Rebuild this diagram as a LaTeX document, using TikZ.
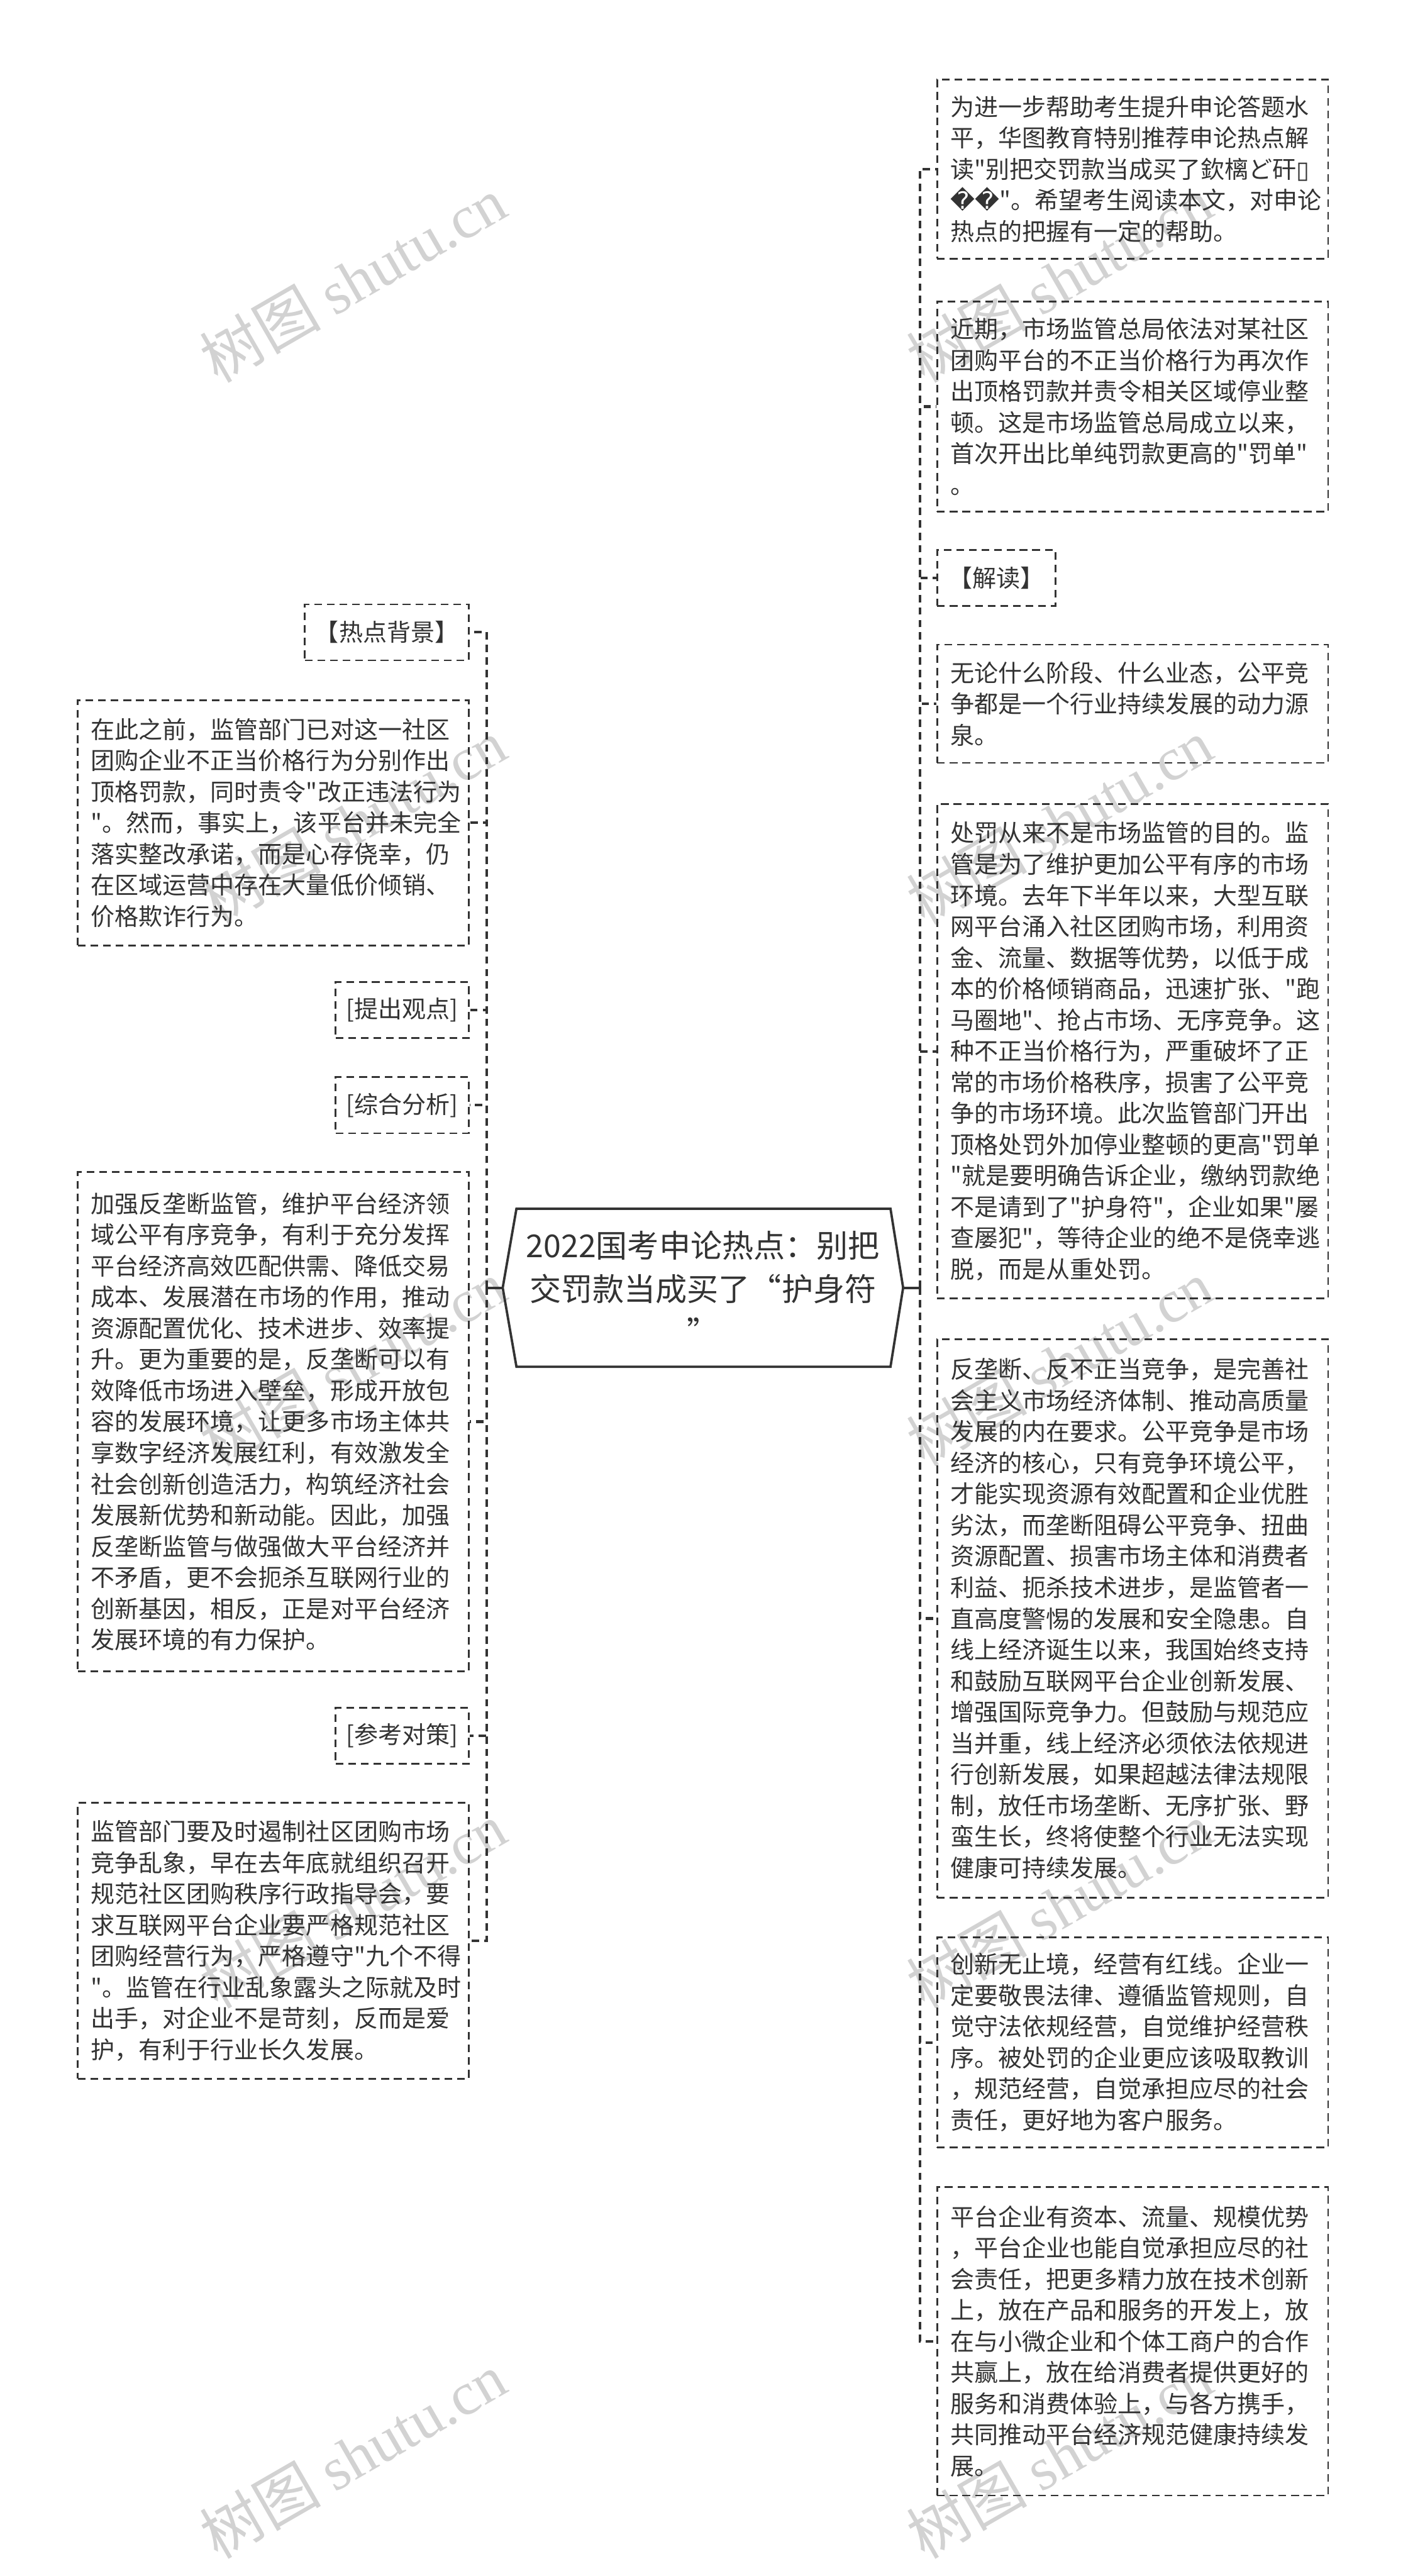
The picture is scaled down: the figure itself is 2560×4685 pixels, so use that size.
\documentclass[tikz,border=0pt]{standalone}
\usepackage{fontspec}
\newfontfamily\cjk{Noto Sans CJK SC}
\newfontfamily\dejavu{DejaVu Sans}
\newfontfamily\wmserif{Liberation Serif}
\usetikzlibrary{calc}
\definecolor{ink}{HTML}{333333}
\definecolor{wmc}{HTML}{D2D2D2}
\begin{document}
\begin{tikzpicture}[x=0.3pt,y=-0.3pt,
 txt/.style={font=\cjk\fontsize{13.05pt}{17pt}\selectfont, text=ink},
 bigbox/.style={txt, draw=ink, line width=0.9pt, dash pattern=on 4.2pt off 2.7pt, align=left, text width=198.9pt, inner xsep=7.2pt, inner ysep=0pt},
 tagbox/.style={txt, draw=ink, line width=0.9pt, dash pattern=on 4.2pt off 2.7pt, inner sep=0pt, minimum height=30.6pt},
 conn/.style={draw=ink, line width=1.4pt, dash pattern=on 4pt off 2.8pt},
 stub/.style={draw=ink, line width=1.4pt},
 hexline/.style={draw=ink, line width=1.3pt},
 wmark/.style={text=wmc, rotate=30, inner sep=0pt, font=\cjk\fontsize{33pt}{33pt}\selectfont}]
\useasboundingbox (0,0) rectangle (2560,4685);

% watermarks
\foreach \wx in {642,1927}{
 \foreach \wy in {508,1494,2479,3465,4466}{
  \node[wmark] at (\wx,\wy) {树图\ {\wmserif shutu.cn}};
 }
}

% root
\node[txt, font=\cjk\fontsize{17.2pt}{23.6pt}\selectfont, align=center, minimum width=218.1pt, minimum height=85.8pt, inner sep=0pt] (root) at (1278.5,2342) {2022国考申论热点：别把\\交罚款当成买了“护身符\\”};
\draw[hexline] (root.west) -- ($(root.north west)+(25,0)$) -- ($(root.north east)+(-23,0)$) -- (root.east) -- ($(root.south east)+(-23,0)$) -- ($(root.south west)+(25,0)$) -- cycle;

% right column
\node[bigbox, anchor=north west, minimum height=97.8pt] (b1) at (1703,143) {为进一步帮助考生提升申论答题水\\平，华图教育特别推荐申论热点解\\读"别把交罚款当成买了欽樆ど矸{\dejavu ▯}\\{\dejavu ��}"。希望考生阅读本文，对申论\\热点的把握有一定的帮助。};
\node[bigbox, anchor=north west, minimum height=114.6pt] (b2) at (1703,547) {近期，市场监管总局依法对某社区\\团购平台的不正当价格行为再次作\\出顶格罚款并责令相关区域停业整\\顿。这是市场监管总局成立以来，\\首次开出比单纯罚款更高的"罚单"\\。};
\node[tagbox, anchor=west, minimum width=64.5pt] (jd) at (1703,1051) {【解读】};
\node[bigbox, anchor=north west, minimum height=64.5pt] (b4) at (1703,1171) {无论什么阶段、什么业态，公平竞\\争都是一个行业持续发展的动力源\\泉。};
\node[bigbox, anchor=north west, minimum height=269.7pt] (b5) at (1703,1461) {处罚从来不是市场监管的目的。监\\管是为了维护更加公平有序的市场\\环境。去年下半年以来，大型互联\\网平台涌入社区团购市场，利用资\\金、流量、数据等优势，以低于成\\本的价格倾销商品，迅速扩张、"跑\\马圈地"、抢占市场、无序竞争。这\\种不正当价格行为，严重破坏了正\\常的市场价格秩序，损害了公平竞\\争的市场环境。此次监管部门开出\\顶格处罚外加停业整顿的更高"罚单\\"就是要明确告诉企业，缴纳罚款绝\\不是请到了"护身符"，企业如果"屡\\查屡犯"，等待企业的绝不是侥幸逃\\脱，而是从重处罚。};
\node[bigbox, anchor=north west, minimum height=304.8pt] (b6) at (1703,2434) {反垄断、反不正当竞争，是完善社\\会主义市场经济体制、推动高质量\\发展的内在要求。公平竞争是市场\\经济的核心，只有竞争环境公平，\\才能实现资源有效配置和企业优胜\\劣汰，而垄断阻碍公平竞争、扭曲\\资源配置、损害市场主体和消费者\\利益、扼杀技术进步，是监管者一\\直高度警惕的发展和安全隐患。自\\线上经济诞生以来，我国始终支持\\和鼓励互联网平台企业创新发展、\\增强国际竞争力。但鼓励与规范应\\当并重，线上经济必须依法依规进\\行创新发展，如果超越法律法规限\\制，放任市场垄断、无序扩张、野\\蛮生长，终将使整个行业无法实现\\健康可持续发展。};
\node[bigbox, anchor=north west, minimum height=114.6pt] (b7) at (1703,3522) {创新无止境，经营有红线。企业一\\定要敬畏法律、遵循监管规则，自\\觉守法依规经营，自觉维护经营秩\\序。被处罚的企业更应该吸取教训\\，规范经营，自觉承担应尽的社会\\责任，更好地为客户服务。};
\node[bigbox, anchor=north west, minimum height=168.3pt] (b8) at (1703,3976) {平台企业有资本、流量、规模优势\\，平台企业也能自觉承担应尽的社\\会责任，把更多精力放在技术创新\\上，放在产品和服务的开发上，放\\在与小微企业和个体工商户的合作\\共赢上，放在给消费者提供更好的\\服务和消费体验上，与各方携手，\\共同推动平台经济规范健康持续发\\展。};

% left column
\node[tagbox, anchor=east, minimum width=89.4pt] (rd) at (854,1150) {【热点背景】};
\node[bigbox, anchor=north east, minimum height=133.8pt] (l1) at (854,1272) {在此之前，监管部门已对这一社区\\团购企业不正当价格行为分别作出\\顶格罚款，同时责令"改正违法行为\\"。然而，事实上，该平台并未完全\\落实整改承诺，而是心存侥幸，仍\\在区域运营中存在大量低价倾销、\\价格欺诈行为。};
\node[tagbox, anchor=east, minimum width=72.6pt] (tc) at (854,1837) {[提出观点]};
\node[tagbox, anchor=east, minimum width=72.6pt] (zh) at (854,2010) {[综合分析]};
\node[bigbox, anchor=north east, minimum height=272.4pt] (l2) at (854,2130) {加强反垄断监管，维护平台经济领\\域公平有序竞争，有利于充分发挥\\平台经济高效匹配供需、降低交易\\成本、发展潜在市场的作用，推动\\资源配置优化、技术进步、效率提\\升。更为重要的是，反垄断可以有\\效降低市场进入壁垒，形成开放包\\容的发展环境，让更多市场主体共\\享数字经济发展红利，有效激发全\\社会创新创造活力，构筑经济社会\\发展新优势和新动能。因此，加强\\反垄断监管与做强做大平台经济并\\不矛盾，更不会扼杀互联网行业的\\创新基因，相反，正是对平台经济\\发展环境的有力保护。};
\node[tagbox, anchor=east, minimum width=72.6pt] (ck) at (854,3157) {[参考对策]};
\node[bigbox, anchor=north east, minimum height=150.6pt] (l3) at (854,3277) {监管部门要及时遏制社区团购市场\\竞争乱象，早在去年底就组织召开\\规范社区团购秩序行政指导会，要\\求互联网平台企业要严格规范社区\\团购经营行为，严格遵守"九个不得\\"。监管在行业乱象露头之际就及时\\出手，对企业不是苛刻，反而是爱\\护，有利于行业长久发展。};

% connectors
\coordinate (lsp) at (885,2342);
\coordinate (rsp) at (1673,2342);
\draw[stub] (root.west) -- (lsp);
\draw[stub] (root.east) -- (rsp);
\foreach \n in {rd,l1,tc,zh,l2,ck,l3}{
 \draw[conn] (lsp) |- (\n.east);
}
\foreach \n in {b1,b2,jd,b4,b5,b6,b7,b8}{
 \draw[conn] (rsp) |- (\n.west);
}
\end{tikzpicture}
\end{document}
